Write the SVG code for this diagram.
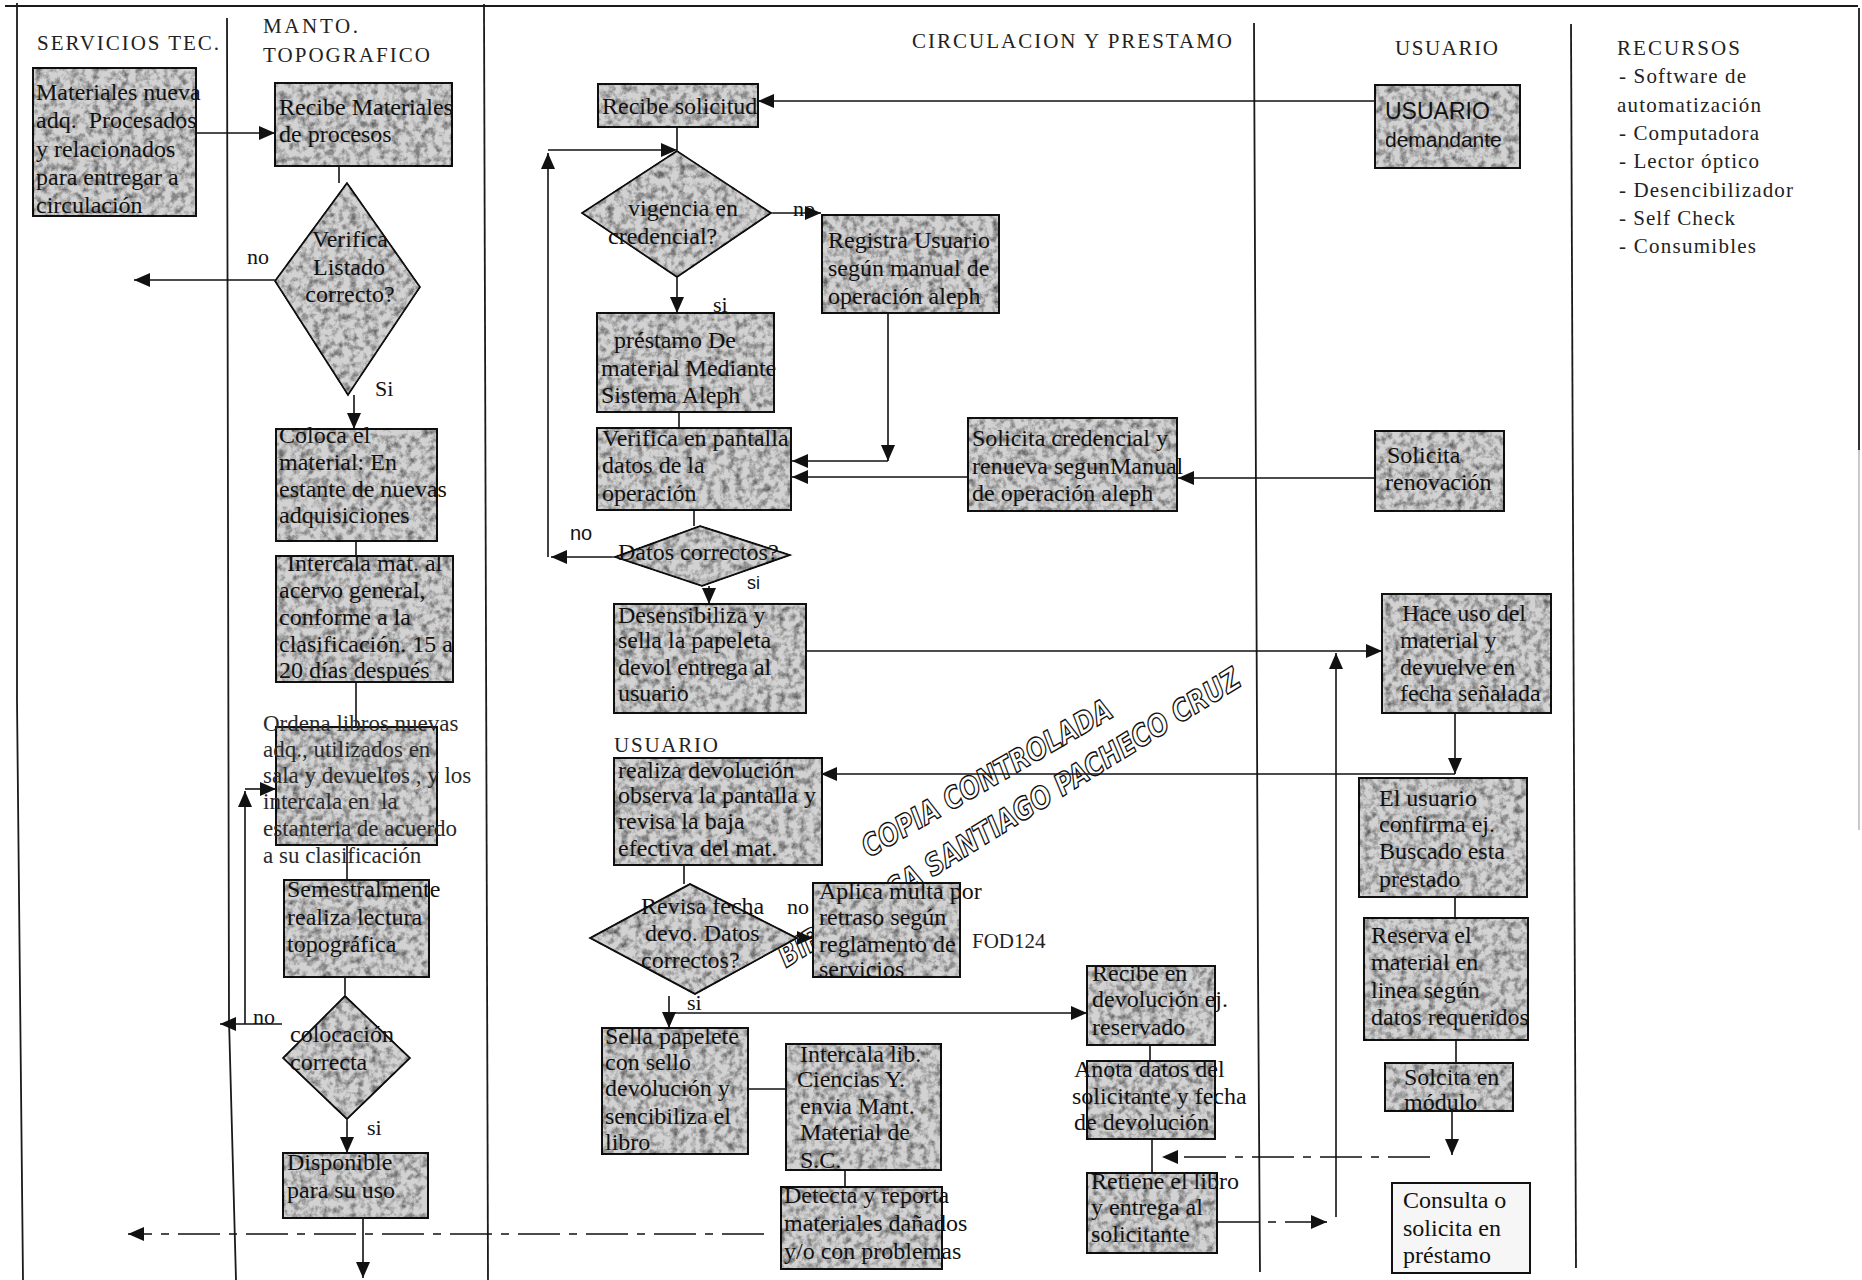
<svg xmlns="http://www.w3.org/2000/svg" width="1862" height="1280" viewBox="0 0 1862 1280">
  <defs>
    <style>
      .frame { stroke:#1a1a1a; stroke-width:1.8; fill:none; }
      .ln { stroke:#111; stroke-width:1.6; fill:none; }
      .arr { stroke:#111; stroke-width:1.6; fill:none; marker-end:url(#ah); }
      .dash { stroke-dasharray:42 9 8 9; }
      .box { fill:#d2d2d2; stroke:#111; stroke-width:2; filter:url(#grain); }
      .pale { fill:#f6f6f6; stroke:#111; stroke-width:2; }
      .t { font-family:"Liberation Serif","Times New Roman",serif; font-size:24px; fill:#111; white-space:pre; }
      .lt { font-family:"Liberation Serif","Times New Roman",serif; font-size:23px; fill:#2a2a2a; white-space:pre; }
      .sans { font-family:"Liberation Sans",Arial,sans-serif; fill:#111; }
      .hd { font-family:"Liberation Serif","Times New Roman",serif; font-size:21px; fill:#222; }
      .lbl { font-family:"Liberation Serif","Times New Roman",serif; font-size:22px; fill:#111; }
      .wm { font-family:"DejaVu Sans",sans-serif; font-weight:bold; font-style:italic; font-size:30px; fill:#fff; stroke:#111; stroke-width:1.4; }
    </style>
    <marker id="ah" viewBox="0 0 16 14" refX="16" refY="7" markerWidth="16" markerHeight="14" markerUnits="userSpaceOnUse" orient="auto">
      <path d="M0,0 L16,7 L0,14 z" fill="#111"/>
    </marker>
    <!-- speckled grey fill for process boxes and decisions -->
    <filter id="grain" x="-5%" y="-5%" width="110%" height="110%" color-interpolation-filters="sRGB">
      <feTurbulence type="fractalNoise" baseFrequency="0.14" numOctaves="4" seed="4" result="n"/>
      <feColorMatrix in="n" type="matrix" values="1.2 0 0 0 0.3  1.2 0 0 0 0.3  1.2 0 0 0 0.3  0 0 0 0 1" result="g"/>
      <feBlend in="SourceGraphic" in2="g" mode="multiply" result="m"/>
      <feComposite in="m" in2="SourceGraphic" operator="in"/>
    </filter>
  </defs>

  <rect width="1862" height="1280" fill="#fff"/>

  <!-- swimlane frame -->
  <g id="lanes">
    <path class="frame" d="M5,6 H1858"/>
    <path class="frame" d="M17,3 L17,700 L23,1280"/>
    <path class="frame" d="M227,18 L229,1020 L236,1280"/>
    <path class="frame" d="M484,4 L488,1280"/>
    <path class="frame" d="M1254,23 L1258,968 L1260,1272"/>
    <path class="frame" d="M1571,24 L1576,1268"/>
    <path class="frame" d="M1859,8 V450"/>
    <path d="M1859,450 V830" stroke="#bbb" stroke-width="1.6"/>
  </g>

  <!-- lane headings -->
  <g id="headings">
    <text class="hd" x="37" y="50" textLength="182" lengthAdjust="spacing">SERVICIOS TEC.</text>
    <text class="hd" x="263" y="33" textLength="95" lengthAdjust="spacing">MANTO.</text>
    <text class="hd" x="263" y="62" textLength="167" lengthAdjust="spacing">TOPOGRAFICO</text>
    <text class="hd" x="912" y="48" textLength="320" lengthAdjust="spacing">CIRCULACION Y PRESTAMO</text>
    <text class="hd" x="1395" y="55" textLength="103" lengthAdjust="spacing">USUARIO</text>
    <text class="hd" x="614" y="752" textLength="104" lengthAdjust="spacing">USUARIO</text>
  </g>

  <!-- resources list -->
  <g id="recursos" class="hd">
    <text x="1617" y="55" textLength="123" lengthAdjust="spacing">RECURSOS</text>
    <text x="1619" y="83" textLength="127" lengthAdjust="spacing">- Software de</text>
    <text x="1617" y="112" textLength="144" lengthAdjust="spacing">automatización</text>
    <text x="1619" y="140" textLength="140" lengthAdjust="spacing">- Computadora</text>
    <text x="1619" y="168" textLength="140" lengthAdjust="spacing">- Lector óptico</text>
    <text x="1619" y="197" textLength="174" lengthAdjust="spacing">- Desencibilizador</text>
    <text x="1619" y="225" textLength="116" lengthAdjust="spacing">- Self Check</text>
    <text x="1619" y="253" textLength="137" lengthAdjust="spacing">- Consumibles</text>
  </g>

  <!-- control stamp (sits under the boxes) -->
  <g id="stamp">
    <text class="wm" transform="translate(869,858) rotate(-30)" textLength="284" lengthAdjust="spacingAndGlyphs">COPIA CONTROLADA</text>
    <text class="wm" transform="translate(786,968) rotate(-31.8)" textLength="538" lengthAdjust="spacingAndGlyphs">BIBLIOTECA SANTIAGO PACHECO CRUZ</text>
  </g>

  <!-- connectors -->
  <g id="connectors">
    <path class="arr" d="M196,133 H275"/>
    <path class="ln" d="M339,166 V183"/>
    <path class="arr" d="M275,280 H134"/>
    <path class="arr" d="M354,395 V429"/>
    <path class="ln" d="M356,541 V556"/>
    <path class="ln" d="M356,682 V727"/>
    <path class="ln" d="M347,845 V880"/>
    <path class="ln" d="M345,977 V996"/>
    <path class="arr" d="M282,1024 H220"/>
    <path class="arr" d="M245,1024 V791"/>
    <path class="arr" d="M245,789 H276"/>
    <path class="arr" d="M347,1119 V1153"/>
    <path class="arr" d="M363,1218 V1278"/>
    <path class="arr dash" d="M764,1234 H128"/>

    <path class="arr" d="M1375,101 H758"/>
    <path class="ln" d="M677,127 V151"/>
    <path class="arr" d="M615,557 H551"/>
    <path class="arr" d="M548,557 V153"/>
    <path class="arr" d="M548,150 H677"/>
    <path class="arr" d="M771,213 H821"/>
    <path class="arr" d="M677,277 V313"/>
    <path class="arr" d="M888,313 V461"/>
    <path class="arr" d="M888,461 H792"/>
    <path class="arr" d="M968,477 H792"/>
    <path class="arr" d="M1375,478 H1178"/>
    <path class="ln" d="M679,412 V428"/>
    <path class="ln" d="M694,510 V526"/>
    <path class="arr" d="M709,586 V604"/>
    <path class="arr" d="M806,651 H1382"/>
    <path class="arr" d="M1336,1217 V653"/>
    <path class="arr" d="M1455,713 V774"/>
    <path class="arr" d="M1455,774 H821"/>
    <path class="ln" d="M684,865 V884"/>
    <path class="arr" d="M790,938 H813"/>
    <path class="arr" d="M669,996 V1028"/>
    <path class="arr" d="M669,1013 H1087"/>
    <path class="ln" d="M748,1089 H786"/>
    <path class="ln" d="M845,1170 V1187"/>
    <path class="ln" d="M1150,1045 V1061"/>
    <path class="ln" d="M1152,1139 V1173"/>
    <path class="arr dash" d="M1430,1157 H1162"/>
    <path class="arr dash" d="M1217,1222 H1327"/>
    <path class="ln" d="M1455,897 V918"/>
    <path class="ln" d="M1456,1040 V1063"/>
    <path class="arr" d="M1452,1111 V1155"/>
  </g>

  <!-- connector labels -->
  <g id="labels">
    <text class="lbl" x="247" y="264">no</text>
    <text class="lbl" x="375" y="396">Si</text>
    <text class="lbl" x="253" y="1024">no</text>
    <text class="lbl" x="367" y="1135">si</text>
    <text class="lbl" x="793" y="216">no</text>
    <text class="lbl" x="713" y="312" font-size="18">si</text>
    <text class="sans" x="570" y="540" font-size="20">no</text>
    <text class="sans" x="747" y="589" font-size="18">si</text>
    <text class="lbl" x="787" y="914">no</text>
    <text class="lbl" x="687" y="1010" font-size="20">si</text>
    <text class="hd" x="972" y="948" font-size="22">FOD124</text>
  </g>

  <!-- SERVICIOS TEC. -->
  <g id="n-materiales">
    <rect class="box" x="33" y="68" width="163" height="148"/>
    <text class="t"><tspan x="36" y="100">Materiales nueva</tspan><tspan x="36" y="128">adq.  Procesados</tspan><tspan x="36" y="157">y relacionados</tspan><tspan x="36" y="185">para entregar a</tspan><tspan x="36" y="213">circulación</tspan></text>
  </g>

  <!-- MANTO. TOPOGRAFICO -->
  <g id="n-recibe-materiales">
    <rect class="box" x="275" y="83" width="177" height="83"/>
    <text class="t"><tspan x="279" y="115">Recibe Materiales</tspan><tspan x="279" y="142">de procesos</tspan></text>
  </g>
  <g id="n-verifica-listado">
    <polygon class="box" points="347,183 420,287 348,395 275,281"/>
    <text class="t" text-anchor="middle"><tspan x="350" y="247">Verifica</tspan><tspan x="349" y="275">Listado</tspan><tspan x="350" y="302">correcto?</tspan></text>
  </g>
  <g id="n-coloca">
    <rect class="box" x="276" y="429" width="161" height="112"/>
    <text class="t"><tspan x="279" y="443">Coloca el</tspan><tspan x="279" y="470">material: En</tspan><tspan x="279" y="497">estante de nuevas</tspan><tspan x="279" y="523">adquisiciones</tspan></text>
  </g>
  <g id="n-intercala-acervo">
    <rect class="box" x="276" y="556" width="177" height="126"/>
    <text class="t"><tspan x="287" y="571">Intercala mat. al</tspan><tspan x="279" y="598">acervo general,</tspan><tspan x="279" y="625">conforme a la</tspan><tspan x="279" y="652">clasificación. 15 a</tspan><tspan x="279" y="678">20 días después</tspan></text>
  </g>
  <g id="n-ordena">
    <rect class="box" x="276" y="727" width="161" height="118"/>
    <text class="lt"><tspan x="263" y="731">Ordena libros nuevas</tspan><tspan x="263" y="757">adq., utilizados en</tspan><tspan x="263" y="783">sala y devueltos , y los</tspan><tspan x="263" y="809">intercala en  la</tspan><tspan x="263" y="836">estanteria de acuerdo</tspan><tspan x="263" y="863">a su clasificación</tspan></text>
  </g>
  <g id="n-semestral">
    <rect class="box" x="284" y="880" width="145" height="97"/>
    <text class="t"><tspan x="287" y="897">Semestralmente</tspan><tspan x="287" y="925">realiza lectura</tspan><tspan x="287" y="952">topográfica</tspan></text>
  </g>
  <g id="n-colocacion">
    <polygon class="box" points="345,996 410,1058 347,1119 283,1058"/>
    <text class="t"><tspan x="290" y="1042">colocación</tspan><tspan x="290" y="1070">correcta</tspan></text>
  </g>
  <g id="n-disponible">
    <rect class="box" x="283" y="1153" width="145" height="65"/>
    <text class="t"><tspan x="287" y="1170">Disponible</tspan><tspan x="287" y="1198">para su uso</tspan></text>
  </g>

  <!-- CIRCULACION Y PRESTAMO -->
  <g id="n-recibe-solicitud">
    <rect class="box" x="598" y="84" width="160" height="43"/>
    <text class="t" x="602" y="114">Recibe solicitud</text>
  </g>
  <g id="n-vigencia">
    <polygon class="box" points="677,151 771,213 677,277 582,213"/>
    <text class="t"><tspan x="628" y="216">vigencia en</tspan><tspan x="608" y="244">credencial?</tspan></text>
  </g>
  <g id="n-registra">
    <rect class="box" x="822" y="215" width="177" height="98"/>
    <text class="t"><tspan x="828" y="248">Registra Usuario</tspan><tspan x="828" y="276">según manual de</tspan><tspan x="828" y="304">operación aleph</tspan></text>
  </g>
  <g id="n-prestamo">
    <rect class="box" x="597" y="313" width="177" height="99"/>
    <text class="t"><tspan x="614" y="348">préstamo De</tspan><tspan x="601" y="376">material Mediante</tspan><tspan x="601" y="403">Sistema Aleph</tspan></text>
  </g>
  <g id="n-verifica-pantalla">
    <rect class="box" x="597" y="428" width="194" height="82"/>
    <text class="t"><tspan x="602" y="446">Verifica en pantalla</tspan><tspan x="602" y="473">datos de la</tspan><tspan x="602" y="501">operación</tspan></text>
  </g>
  <g id="n-datos">
    <polygon class="box" points="700,526 790,555 702,586 615,557"/>
    <text class="t" x="618" y="560">Datos correctos?</text>
  </g>
  <g id="n-desensibiliza">
    <rect class="box" x="614" y="604" width="192" height="109"/>
    <text class="t"><tspan x="618" y="623">Desensibiliza y</tspan><tspan x="618" y="648">sella la papeleta</tspan><tspan x="618" y="675">devol entrega al</tspan><tspan x="618" y="701">usuario</tspan></text>
  </g>
  <g id="n-solicita-credencial">
    <rect class="box" x="968" y="418" width="209" height="93"/>
    <text class="t"><tspan x="972" y="446">Solicita credencial y</tspan><tspan x="972" y="474">renueva segunManual</tspan><tspan x="972" y="501">de operación aleph</tspan></text>
  </g>
  <g id="n-realiza">
    <rect class="box" x="614" y="758" width="208" height="107"/>
    <text class="t"><tspan x="618" y="778">realiza devolución</tspan><tspan x="618" y="803">observa la pantalla y</tspan><tspan x="618" y="829">revisa la baja</tspan><tspan x="618" y="856">efectiva del mat.</tspan></text>
  </g>
  <g id="n-revisa">
    <polygon class="box" points="690,884 797,938 695,994 590,938"/>
    <text class="t"><tspan x="641" y="914">Revisa fecha</tspan><tspan x="645" y="941">devo. Datos</tspan><tspan x="641" y="968">correctos?</tspan></text>
  </g>
  <g id="n-aplica">
    <rect class="box" x="813" y="883" width="147" height="94"/>
    <text class="t"><tspan x="819" y="899">Aplica multa por</tspan><tspan x="819" y="925">retraso según</tspan><tspan x="819" y="952">reglamento de</tspan><tspan x="819" y="977">servicios</tspan></text>
  </g>
  <g id="n-sella">
    <rect class="box" x="602" y="1028" width="146" height="126"/>
    <text class="t"><tspan x="605" y="1044">Sella papelete</tspan><tspan x="605" y="1070">con sello</tspan><tspan x="605" y="1096">devolución y</tspan><tspan x="605" y="1124">sencibiliza el</tspan><tspan x="605" y="1150">libro</tspan></text>
  </g>
  <g id="n-intercala-lib">
    <rect class="box" x="786" y="1044" width="155" height="126"/>
    <text class="t"><tspan x="800" y="1062">Intercala lib.</tspan><tspan x="797" y="1087">Ciencias Y.</tspan><tspan x="800" y="1114">envia Mant.</tspan><tspan x="800" y="1140">Material de</tspan><tspan x="800" y="1168">S.C.</tspan></text>
  </g>
  <g id="n-detecta">
    <rect class="box" x="781" y="1187" width="161" height="82"/>
    <text class="t"><tspan x="784" y="1203">Detecta y reporta</tspan><tspan x="784" y="1231">materiales dañados</tspan><tspan x="784" y="1259">y/o con problemas</tspan></text>
  </g>
  <g id="n-recibe-devolucion">
    <rect class="box" x="1087" y="966" width="128" height="79"/>
    <text class="t"><tspan x="1092" y="981">Recibe en</tspan><tspan x="1092" y="1007">devolución ej.</tspan><tspan x="1092" y="1035">reservado</tspan></text>
  </g>
  <g id="n-anota">
    <rect class="box" x="1087" y="1061" width="128" height="78"/>
    <text class="t"><tspan x="1074" y="1077">Anota datos del</tspan><tspan x="1072" y="1104">solicitante y fecha</tspan><tspan x="1074" y="1130">de devolución</tspan></text>
  </g>
  <g id="n-retiene">
    <rect class="box" x="1087" y="1173" width="130" height="80"/>
    <text class="t"><tspan x="1091" y="1189">Retiene el libro</tspan><tspan x="1091" y="1215">y entrega al</tspan><tspan x="1091" y="1242">solicitante</tspan></text>
  </g>

  <!-- USUARIO -->
  <g id="n-usuario-demandante">
    <rect class="box" x="1375" y="85" width="145" height="83"/>
    <text class="sans" font-size="23"><tspan x="1385" y="119">USUARIO</tspan><tspan x="1385" y="147" font-size="21">demandante</tspan></text>
  </g>
  <g id="n-solicita-renovacion">
    <rect class="box" x="1375" y="431" width="129" height="80"/>
    <text class="t"><tspan x="1387" y="463">Solicita</tspan><tspan x="1385" y="490">renovación</tspan></text>
  </g>
  <g id="n-hace-uso">
    <rect class="box" x="1382" y="594" width="169" height="119"/>
    <text class="t"><tspan x="1402" y="621">Hace uso del</tspan><tspan x="1400" y="648">material y</tspan><tspan x="1400" y="675">devuelve en</tspan><tspan x="1400" y="701">fecha señalada</tspan></text>
  </g>
  <g id="n-el-usuario">
    <rect class="box" x="1359" y="778" width="168" height="119"/>
    <text class="t"><tspan x="1379" y="806">El usuario</tspan><tspan x="1379" y="832">confirma ej.</tspan><tspan x="1379" y="859">Buscado esta</tspan><tspan x="1379" y="887">prestado</tspan></text>
  </g>
  <g id="n-reserva">
    <rect class="box" x="1364" y="918" width="164" height="122"/>
    <text class="t"><tspan x="1371" y="943">Reserva el</tspan><tspan x="1371" y="970">material en</tspan><tspan x="1371" y="998">linea según</tspan><tspan x="1371" y="1025">datos requeridos</tspan></text>
  </g>
  <g id="n-solcita-modulo">
    <rect class="box" x="1385" y="1063" width="128" height="48"/>
    <text class="t"><tspan x="1404" y="1085">Solcita en</tspan><tspan x="1404" y="1110">módulo</tspan></text>
  </g>
  <g id="n-consulta">
    <rect class="pale" x="1392" y="1183" width="138" height="90"/>
    <text class="t"><tspan x="1403" y="1208">Consulta o</tspan><tspan x="1403" y="1236">solicita en</tspan><tspan x="1403" y="1263">préstamo</tspan></text>
  </g>
</svg>
